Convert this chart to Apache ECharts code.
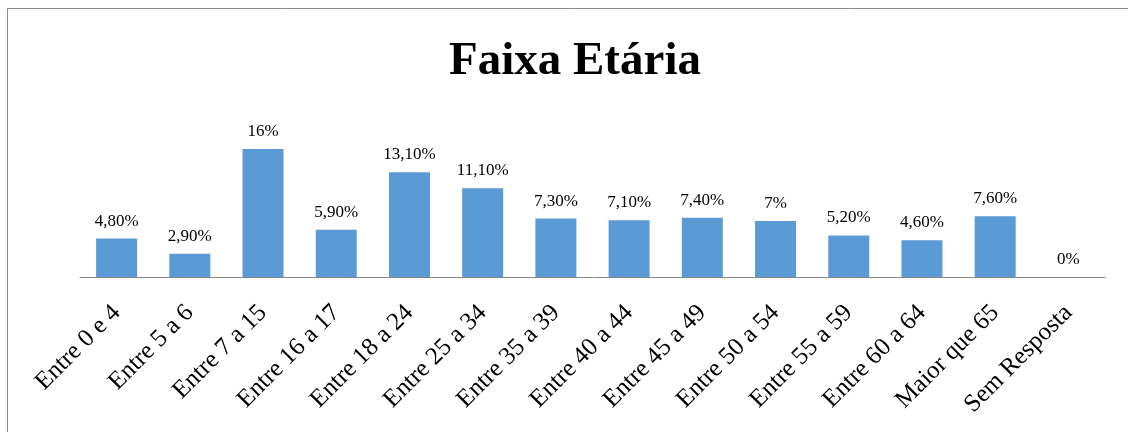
<!DOCTYPE html>
<html>
<head>
<meta charset="utf-8">
<script src="https://cdn.jsdelivr.net/npm/echarts@6/dist/echarts.min.js"></script>
<style>
  html, body { margin: 0; padding: 0; background: #fff; }
  #main { width: 1128px; height: 432px; }
</style>
</head>
<body>
<div id="main"></div>
<script>
// faixas etárias
var categorias = ['Entre 0 e 4', 'Entre 5 a 6', 'Entre 7 a 15', 'Entre 16 a 17', 'Entre 18 a 24',
  'Entre 25 a 34', 'Entre 35 a 39', 'Entre 40 a 44', 'Entre 45 a 49', 'Entre 50 a 54',
  'Entre 55 a 59', 'Entre 60 a 64', 'Maior que 65', 'Sem Resposta'];
// percentuais
var valores = [4.8, 2.9, 16, 5.9, 13.1, 11.1, 7.3, 7.1, 7.4, 7, 5.2, 4.6, 7.6, 0];

function fmt(v) {
  if (Math.round(v) === v) return v + '%';
  return v.toFixed(2).replace('.', ',') + '%';
}

var myChart = echarts.init(document.getElementById('main'));
myChart.setOption({
  animation: false,
  title: {
    text: 'Faixa Etária',
    left: 444,
    top: 33,
    textStyle: { fontFamily: 'Liberation Serif', fontWeight: 'bold', fontSize: 47, color: '#000' }
  },
  graphic: [{
    type: 'rect',
    shape: { x: 7.5, y: 8.5, width: 1300, height: 600 },
    style: { fill: 'none', stroke: '#8c8c8c', lineWidth: 1 }
  }],
  grid: { left: 80, right: 23, top: 117, bottom: 155 },
  xAxis: {
    type: 'category',
    data: categorias,
    axisLine: { lineStyle: { color: '#868686', width: 1 } },
    axisTick: { show: false },
    axisLabel: {
      rotate: 45,
      interval: 0,
      margin: 32,
      fontFamily: 'Liberation Serif',
      fontSize: 25,
      color: '#000'
    }
  },
  yAxis: {
    type: 'value',
    min: 0,
    max: 20,
    show: false
  },
  series: [{
    type: 'bar',
    data: valores,
    barWidth: '56%',
    itemStyle: { color: '#5B9BD5' },
    label: {
      show: true,
      position: 'top',
      distance: 9,
      fontFamily: 'Liberation Serif',
      fontSize: 17,
      color: '#000',
      formatter: function (p) { return fmt(p.value); }
    }
  }]
});
</script>
</body>
</html>
